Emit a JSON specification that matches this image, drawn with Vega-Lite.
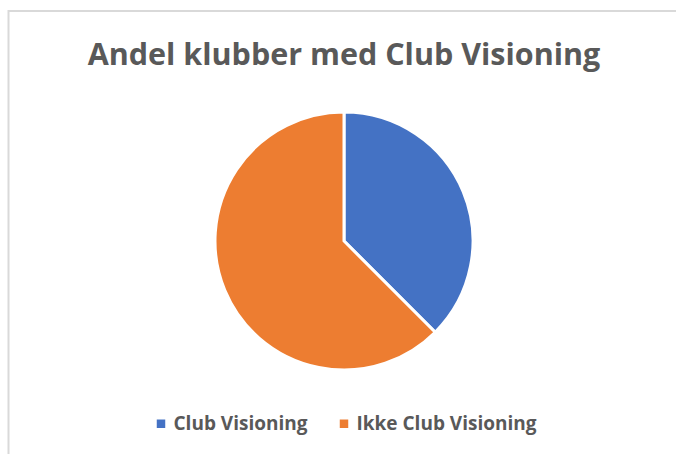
{
  "$schema": "https://vega.github.io/schema/vega-lite/v6.json",
  "width": 671,
  "height": 460,
  "autosize": {"type": "none"},
  "padding": {"left": 8.5, "top": 11, "right": 0, "bottom": 0},
  "background": "white",
  "view": {"stroke": "#d9d9d9", "strokeWidth": 2, "fill": "white"},
  "title": {
    "text": "Andel klubber med Club Visioning",
    "anchor": "middle",
    "frame": "group",
    "orient": "top",
    "baseline": "alphabetic",
    "offset": -55,
    "dy": 29,
    "font": "Open Sans",
    "fontSize": 30.5,
    "fontWeight": 700,
    "color": "#595959"
  },
  "data": {
    "values": [
      {"kategori": "Club Visioning", "andel": 37.5},
      {"kategori": "Ikke Club Visioning", "andel": 62.5}
    ]
  },
  "mark": {"type": "arc", "outerRadius": 129, "stroke": "white", "strokeWidth": 3},
  "encoding": {
    "theta": {"field": "andel", "type": "quantitative", "stack": true},
    "color": {
      "field": "kategori",
      "type": "nominal",
      "scale": {"domain": ["Club Visioning", "Ikke Club Visioning"], "range": ["#4472C4", "#ED7D31"]},
      "legend": {
        "title": null,
        "orient": "none",
        "direction": "horizontal",
        "legendX": 143,
        "legendY": 403,
        "symbolType": "square",
        "symbolSize": 72,
        "symbolStrokeWidth": 0,
        "labelFont": "Open Sans",
        "labelFontSize": 19,
        "labelFontWeight": 700,
        "labelColor": "#595959",
        "labelOffset": 3,
        "columnPadding": 26,
        "labelLimit": 400
      }
    }
  },
  "config": {
    "view": {"stroke": "#d9d9d9", "strokeWidth": 2}
  }
}
